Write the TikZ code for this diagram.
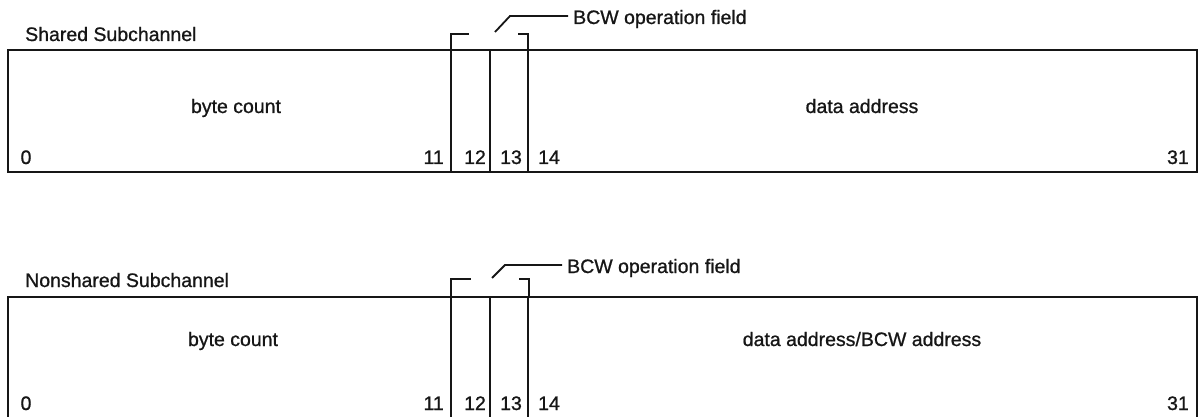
\documentclass[tikz,border=0pt]{standalone}
\usepackage{fontspec}
\setmainfont{Liberation Sans}
\newfontfamily\medfont[FakeBold=0.9]{Liberation Sans}
\usepackage{xcolor}
\usepackage{tikz}
\usetikzlibrary{positioning, calc}
\definecolor{InkBlack}{RGB}{22, 22, 22}
\tikzset{
  regline/.style={line width=2pt, draw=InkBlack},
  bitline/.style={line width=2.4pt, draw=InkBlack},
  bracket/.style={line width=2.2pt, draw=InkBlack},
  leader/.style={line width=1.8pt, draw=InkBlack},
  lbl/.style={inner sep=0pt, font=\medfont\fontsize{19.5}{22}\selectfont, text=InkBlack},
  bitno/.style={lbl, anchor=base},
}

\begin{document}
\begin{tikzpicture}[x=1pt, y=-1pt]
  \useasboundingbox (0,0) rectangle (1199,417);

  % --- shared subchannel
  \node[lbl, anchor=base west] (shtitle) at (25,41) {Shared Subchannel};
  \coordinate (shNW) at (8,50);
  \coordinate (shSE) at (1197,172);
  \draw[regline] (shNW) rectangle (shSE);
  \foreach \x in {451,490,528}
    \draw[bitline] (\x,50) -- (\x,172);
  \draw[bracket] (451,50) -- (451,34) -- (469,34);
  \draw[bracket] (518,34) -- (528,34) -- (528,50);
  \node[lbl, anchor=base west] (shbcw) at (573,24) {BCW operation field};
  \coordinate (shfoot) at (495,32);
  \draw[leader] (shfoot) -- (510,16) -- ([xshift=-5pt, yshift=8pt]shbcw.base west);
  \node[lbl, anchor=base] (shcount) at (236,113) {byte count};
  \node[lbl, anchor=base] (shaddr) at (862,113) {data address};
  \node[bitno] (sh0) at (26,164) {0};
  \node[bitno, anchor=base east] (sh11) at (444,164) {11};
  \node[bitno] (sh12) at (475,164) {12};
  \node[bitno] (sh13) at (511,164) {13};
  \node[bitno, anchor=base west] (sh14) at (538,164) {14};
  \node[bitno, anchor=base east] (sh31) at (1189,164) {31};

  % --- nonshared subchannel
  \node[lbl, anchor=base west] (nstitle) at (25,287) {Nonshared Subchannel};
  \draw[regline] (8,417) -- (8,297) -- (1197,297) -- (1197,417);
  \foreach \x in {451,490,528}
    \draw[bitline] (\x,297) -- (\x,417);
  \draw[bracket] (451,297) -- (451,279) -- (471,279);
  \draw[bracket] (519,279) -- (529,279) -- (529,297);
  \node[lbl, anchor=base west] (nsbcw) at (567,273) {BCW operation field};
  \coordinate (nsfoot) at (492,278);
  \draw[leader] (nsfoot) -- (505,265) -- ([xshift=-5pt, yshift=8pt]nsbcw.base west);
  \node[lbl, anchor=base] (nscount) at (233,346) {byte count};
  \node[lbl, anchor=base] (nsaddr) at (862,346) {data address/BCW address};
  \node[bitno] (ns0) at (26,410) {0};
  \node[bitno, anchor=base east] (ns11) at (444,410) {11};
  \node[bitno] (ns12) at (475,410) {12};
  \node[bitno] (ns13) at (511,410) {13};
  \node[bitno, anchor=base west] (ns14) at (538,410) {14};
  \node[bitno, anchor=base east] (ns31) at (1189,410) {31};
\end{tikzpicture}
\end{document}
